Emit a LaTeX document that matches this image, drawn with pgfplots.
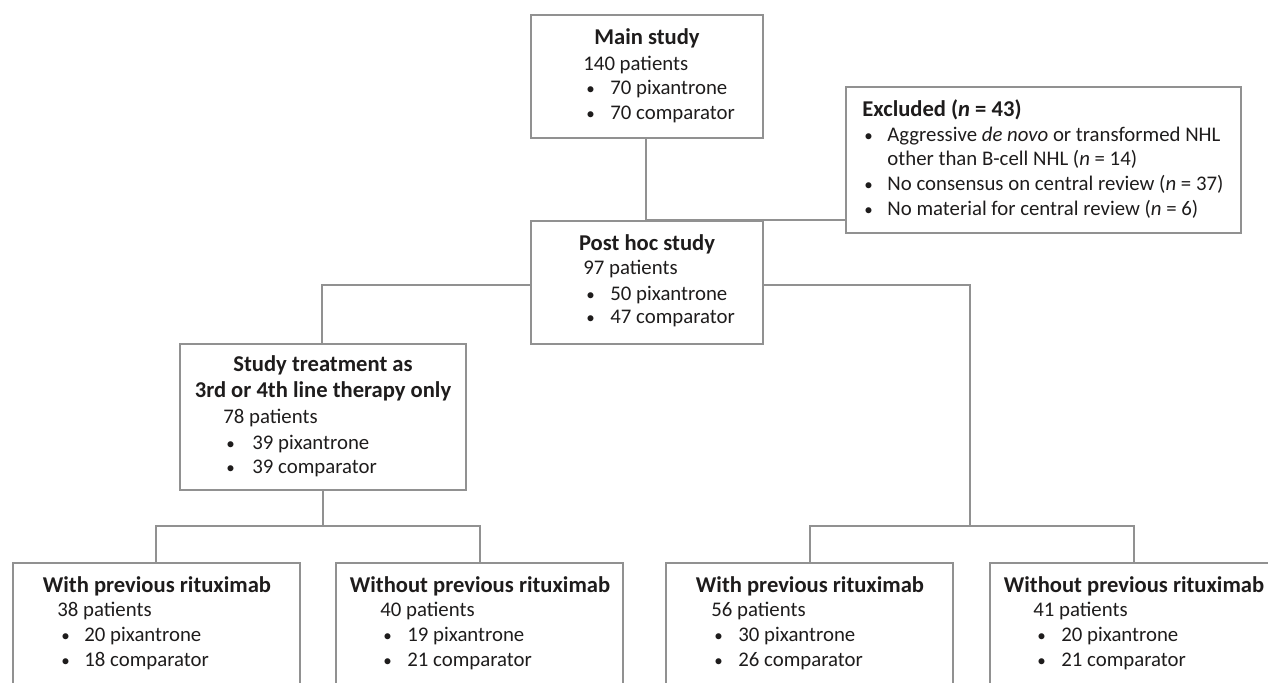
\documentclass[border=0pt]{standalone}
\usepackage{pgfplots}
\pgfplotsset{compat=1.18}
\usepackage{fontspec}
\setmainfont{Carlito}
\definecolor{linegray}{RGB}{145,145,145}
\definecolor{ink}{RGB}{30,28,28}
\tikzset{
  txt/.style={font=\fontsize{10.4pt}{12pt}\selectfont, text=ink, inner sep=0pt, anchor=base west},
  bul/.style={font=\fontsize{8.5pt}{10pt}\selectfont, text=ink, inner sep=0pt, anchor=base west},
  ttl/.style={font=\fontsize{11.3pt}{13pt}\selectfont\bfseries, text=ink, inner sep=0pt, anchor=base},
}
\pgfplotsset{conn/.style={no markers, draw=linegray, line width=1.35pt, line join=miter}}

\begin{document}
\begin{tikzpicture}
\begin{axis}[
  name=ax,
  scale only axis, width=634pt, height=341.5pt,
  xmin=0, xmax=1268, ymin=0, ymax=683, y dir=reverse,
  hide axis, clip=false,
]
% boxes
\addplot[conn] coordinates {(531,15) (763,15) (763,138) (531,138)} -- cycle;
\addplot[conn] coordinates {(846,87) (1241,87) (1241,233) (846,233)} -- cycle;
\addplot[conn] coordinates {(531,221) (763,221) (763,344) (531,344)} -- cycle;
\addplot[conn] coordinates {(180,344) (466,344) (466,490) (180,490)} -- cycle;
\addplot[conn] coordinates {(13,683) (13,563) (300,563) (300,683)};
\addplot[conn] coordinates {(336,683) (336,563) (623,563) (623,683)};
\addplot[conn] coordinates {(666,683) (666,563) (953,563) (953,683)};
\addplot[conn] coordinates {(990,683) (990,563) (1268,563)};
% connectors
\addplot[conn] coordinates {(646,138) (646,221)};
\addplot[conn] coordinates {(646,220) (846,220)};
\addplot[conn] coordinates {(531,285) (322,285) (322,344)};
\addplot[conn] coordinates {(763,285) (970,285) (970,526)};
\addplot[conn] coordinates {(323,490) (323,526)};
\addplot[conn] coordinates {(156,563) (156,526) (480,526) (480,563)};
\addplot[conn] coordinates {(810,563) (810,526) (1134,526) (1134,563)};

% Main study
\node[ttl] at (axis cs:647,45) {Main study};
\node[txt] at (axis cs:583,71) {140 patients};
\node[bul] at (axis cs:586,95) {•};
\node[txt] at (axis cs:610,95) {70 pixantrone};
\node[bul] at (axis cs:586,120) {•};
\node[txt] at (axis cs:610,120) {70 comparator};

% Excluded
\node[ttl, anchor=base west] at (axis cs:862,117) {Excluded (\textit{n} = 43)};
\node[bul] at (axis cs:864,142) {•};
\node[txt] at (axis cs:887,142) {Aggressive \textit{de novo} or transformed NHL};
\node[txt] at (axis cs:887,166) {other than B-cell NHL (\textit{n} = 14)};
\node[bul] at (axis cs:864,191) {•};
\node[txt] at (axis cs:887,191) {No consensus on central review (\textit{n} = 37)};
\node[bul] at (axis cs:864,216) {•};
\node[txt] at (axis cs:887,216) {No material for central review (\textit{n} = 6)};

% Post hoc study
\node[ttl] at (axis cs:647,251) {Post hoc study};
\node[txt] at (axis cs:583,275) {97 patients};
\node[bul] at (axis cs:586,301) {•};
\node[txt] at (axis cs:610,301) {50 pixantrone};
\node[bul] at (axis cs:586,324) {•};
\node[txt] at (axis cs:610,324) {47 comparator};

% Study treatment
\node[ttl] at (axis cs:323,372) {Study treatment as};
\node[ttl] at (axis cs:323,398) {3rd or 4th line therapy only};
\node[txt] at (axis cs:223,424) {78 patients};
\node[bul] at (axis cs:226,450) {•};
\node[txt] at (axis cs:252,450) {39 pixantrone};
\node[bul] at (axis cs:226,474) {•};
\node[txt] at (axis cs:252,474) {39 comparator};

% bottom row
\node[ttl] at (axis cs:157,592) {With previous rituximab};
\node[txt] at (axis cs:57,616) {38 patients};
\node[bul] at (axis cs:61,641) {•};
\node[txt] at (axis cs:84,641) {20 pixantrone};
\node[bul] at (axis cs:61,666) {•};
\node[txt] at (axis cs:84,666) {18 comparator};

\node[ttl] at (axis cs:480,592) {Without previous rituximab};
\node[txt] at (axis cs:380,616) {40 patients};
\node[bul] at (axis cs:383,641) {•};
\node[txt] at (axis cs:407,641) {19 pixantrone};
\node[bul] at (axis cs:383,666) {•};
\node[txt] at (axis cs:407,666) {21 comparator};

\node[ttl] at (axis cs:810,592) {With previous rituximab};
\node[txt] at (axis cs:711,616) {56 patients};
\node[bul] at (axis cs:714,641) {•};
\node[txt] at (axis cs:738,641) {30 pixantrone};
\node[bul] at (axis cs:714,666) {•};
\node[txt] at (axis cs:738,666) {26 comparator};

\node[ttl] at (axis cs:1134,592) {Without previous rituximab};
\node[txt] at (axis cs:1033,616) {41 patients};
\node[bul] at (axis cs:1037,641) {•};
\node[txt] at (axis cs:1061,641) {20 pixantrone};
\node[bul] at (axis cs:1037,666) {•};
\node[txt] at (axis cs:1061,666) {21 comparator};
\end{axis}
\pgfresetboundingbox
\path (ax.south west) rectangle (ax.north east);
\end{tikzpicture}
\end{document}
